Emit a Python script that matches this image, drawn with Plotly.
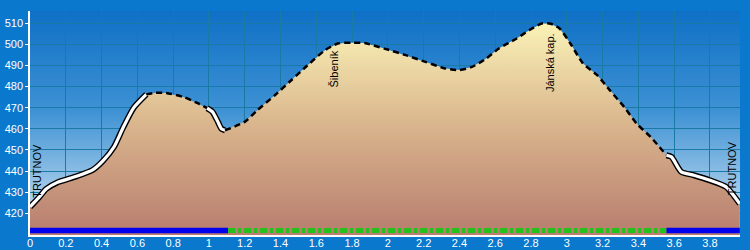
import base64
import plotly.graph_objects as go

# ---- data ----
dist_km = [0.00, 0.05, 0.09, 0.15, 0.26, 0.35, 0.41, 0.47, 0.52, 0.58, 0.65,
           0.70, 0.76, 0.86, 0.94, 0.99, 1.02, 1.05, 1.07, 1.09, 1.20, 1.27,
           1.37, 1.46, 1.55, 1.65, 1.72, 1.80, 1.87, 1.98, 2.10, 2.21, 2.32,
           2.40, 2.47, 2.55, 2.62, 2.72, 2.79, 2.86, 2.91, 2.96, 3.02, 3.09,
           3.17, 3.24, 3.32, 3.39, 3.47, 3.557, 3.585, 3.64, 3.71, 3.80, 3.89,
           3.967]
elev_m = [423.0, 427.5, 431.5, 434.5, 437.5, 440.5, 445.0, 451.5, 460.5, 470.0,
          476.3, 477.0, 477.0, 475.0, 472.0, 469.8, 468.0, 463.3, 460.0, 459.3,
          463.3, 468.8, 476.0, 483.0, 490.0, 497.3, 500.4, 500.8, 500.6, 498.0,
          494.9, 491.7, 488.6, 487.8, 489.3, 493.3, 498.0, 502.8, 506.7, 509.9,
          509.8, 507.5, 500.4, 491.0, 485.4, 478.3, 470.4, 462.5, 456.0, 447.5,
          446.7, 439.6, 438.0, 435.6, 432.5, 424.5]

# line segments: (start km, end km, style)
line_segments = [(0.00, 0.65, "solid"), (0.65, 0.99, "dash"), (0.99, 1.09, "solid"),
                 (1.09, 3.557, "dash"), (3.557, 3.967, "solid")]
# bottom bar segments: (start km, end km, kind)
bar_segments = [(0.00, 1.107, "blue"), (1.107, 3.557, "green"), (3.557, 3.967, "blue")]

labels = ["TRUTNOV", "Šibeník", "Jánská kap.", "TRUTNOV"]
label_km = [0.041, 1.697, 2.905, 3.925]
label_elev = [440.3, 488.4, 491.5, 441.5]

x_ticks = [0, 0.2, 0.4, 0.6, 0.8, 1, 1.2, 1.4, 1.6, 1.8, 2, 2.2, 2.4, 2.6, 2.8,
           3, 3.2, 3.4, 3.6, 3.8]
y_ticks = [420, 430, 440, 450, 460, 470, 480, 490, 500, 510]

X_RANGE = [0, 3.968]
Y_RANGE = [409.7, 515.8]
BAR_Y = 411.85

fig = go.Figure()

# profile fill
y_bottom = Y_RANGE[0]
fig.add_trace(go.Scatter(
    x=dist_km + [dist_km[-1], dist_km[0]],
    y=elev_m + [y_bottom, y_bottom],
    mode="lines", fill="toself", line=dict(width=0),
    fillgradient=dict(type="vertical", start=412, stop=510,
                      colorscale=[[0, "#b97f70"], [0.5, "#d9b48c"], [1, "#faf2b6"]]),
    hoverinfo="skip", showlegend=False))

# profile line segments
for a, b, style in line_segments:
    xs = [d for d in dist_km if a - 1e-9 <= d <= b + 1e-9]
    ys = [e for d, e in zip(dist_km, elev_m) if a - 1e-9 <= d <= b + 1e-9]
    if style == "solid":
        fig.add_trace(go.Scatter(x=xs, y=ys, mode="lines",
                                 line=dict(color="black", width=6, shape="spline", smoothing=0.6),
                                 hoverinfo="skip", showlegend=False))
        fig.add_trace(go.Scatter(x=xs, y=ys, mode="lines",
                                 line=dict(color="white", width=3.2, shape="spline", smoothing=0.6),
                                 hoverinfo="skip", showlegend=False))
    else:
        fig.add_trace(go.Scatter(x=xs, y=ys, mode="lines",
                                 line=dict(color="black", width=2.5, dash="6px,4px",
                                           shape="spline", smoothing=0.6),
                                 hoverinfo="skip", showlegend=False))

# bottom bar
for a, b, kind in bar_segments:
    if kind == "blue":
        fig.add_trace(go.Scatter(x=[a, b], y=[BAR_Y, BAR_Y], mode="lines",
                                 line=dict(color="#0000ee", width=5.5),
                                 hoverinfo="skip", showlegend=False))
    else:
        fig.add_trace(go.Scatter(x=[a, b], y=[BAR_Y, BAR_Y], mode="lines",
                                 line=dict(color="#22c21a", width=5, dash="7px,3px,3px,3px"),
                                 hoverinfo="skip", showlegend=False))

for t, xk, ye in zip(labels, label_km, label_elev):
    fig.add_annotation(x=xk, y=ye, text=t, textangle=-90, showarrow=False,
                       font=dict(family="Liberation Sans, Arial", size=11, color="black"))

# sky gradient background as svg image
svg = ('<svg xmlns="http://www.w3.org/2000/svg" width="100" height="100" preserveAspectRatio="none">'
       '<defs><linearGradient id="g" x1="0" y1="0" x2="0" y2="1">'
       '<stop offset="0" stop-color="#0f70c6"/><stop offset="0.45" stop-color="#3f92d4"/>'
       '<stop offset="1" stop-color="#d8e9f5"/></linearGradient></defs>'
       '<rect width="100" height="100" fill="url(#g)"/></svg>')
src = "data:image/svg+xml;base64," + base64.b64encode(svg.encode()).decode()
fig.add_layout_image(source=src, xref="paper", yref="paper", x=0, y=1, sizex=1, sizey=1,
                     sizing="stretch", xanchor="left", yanchor="top", layer="below")

axis_font = dict(family="Liberation Sans, Arial", size=11, color="white")
fig.update_layout(
    width=750, height=250,
    margin=dict(l=30, r=10, t=11, b=15),
    paper_bgcolor="#0a78cc", plot_bgcolor="rgba(0,0,0,0)",
    xaxis=dict(range=X_RANGE, tickvals=x_ticks, ticktext=[f"{v:g}" for v in x_ticks],
               automargin=False,
               showgrid=True, gridcolor="#1a7aa6", gridwidth=1, zeroline=False,
               showline=True, linecolor="white", linewidth=1.5,
               ticks="", ticklabelstandoff=-3, tickfont=axis_font),
    yaxis=dict(range=Y_RANGE, tickvals=y_ticks, showgrid=True, gridcolor="#1a7aa6",
               automargin=False,
               gridwidth=1, zeroline=False, showline=True, linecolor="white", linewidth=1.5,
               ticks="outside", ticklen=3, tickcolor="white", tickfont=axis_font),
)

fig.write_html("out.html")
